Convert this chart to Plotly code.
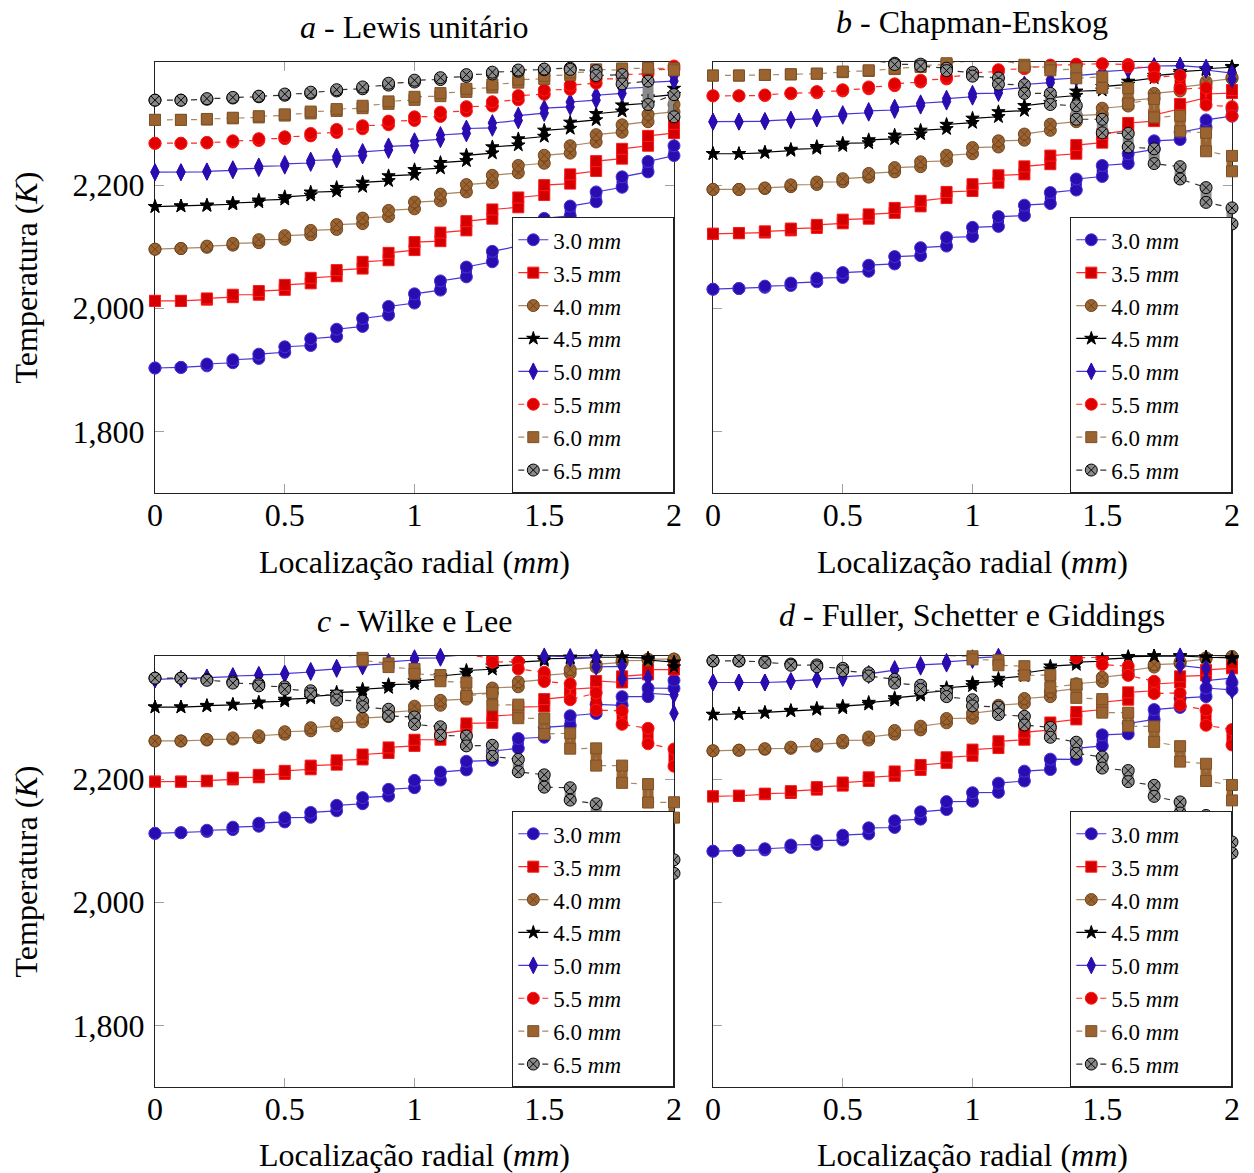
import plotly.graph_objects as go

# ---------------- data ----------------
RADIAL_MM = [0.0, 0.1, 0.2, 0.3, 0.4, 0.5, 0.6, 0.7, 0.8, 0.9, 1.0,
             1.1, 1.2, 1.3, 1.4, 1.5, 1.6, 1.7, 1.8, 1.9, 2.0]
SERIES = ["3.0", "3.5", "4.0", "4.5", "5.0", "5.5", "6.0", "6.5"]
PANEL_LETTERS = ["a", "b", "c", "d"]
PANEL_NAMES = ["Lewis unitário", "Chapman-Enskog", "Wilke e Lee",
               "Fuller, Schetter e Giddings"]
X_TICKS = [0, 0.5, 1, 1.5, 2]
X_TICK_TEXT = ["0", "0.5", "1", "1.5", "2"]
Y_TICKS = [1800, 2000, 2200]
Y_TICK_TEXT = ["1,800", "2,000", "2,200"]

# temperature (K) at each radial position (centre of the marker stack)
LEWIS_T = {
    "3.0": [1903, 1904, 1908, 1914, 1922, 1933, 1945, 1960, 1977, 1996, 2016, 2037, 2059, 2084, 2110, 2137, 2158, 2181, 2205, 2230, 2256],
    "3.5": [2012, 2012, 2015, 2020, 2025, 2034, 2045, 2057, 2070, 2084, 2101, 2116, 2134, 2153, 2172, 2192, 2210, 2231, 2251, 2272, 2292],
    "4.0": [2096, 2097, 2100, 2104, 2109, 2115, 2123, 2132, 2142, 2154, 2167, 2180, 2195, 2210, 2226, 2242, 2258, 2276, 2292, 2309, 2325],
    "4.5": [2165, 2166, 2167, 2170, 2174, 2179, 2186, 2193, 2201, 2211, 2221, 2232, 2244, 2257, 2270, 2284, 2297, 2311, 2325, 2338, 2352],
    "5.0": [2221, 2221, 2222, 2225, 2229, 2233, 2238, 2244, 2251, 2260, 2268, 2278, 2288, 2297, 2309, 2321, 2331, 2342, 2353, 2363, 2373],
    "5.5": [2268, 2268, 2269, 2271, 2274, 2277, 2282, 2288, 2294, 2301, 2308, 2315, 2324, 2332, 2342, 2351, 2359, 2369, 2376, 2384, 2391],
    "6.0": [2306, 2306, 2307, 2309, 2311, 2314, 2318, 2322, 2327, 2334, 2341, 2347, 2354, 2361, 2369, 2375, 2381, 2386, 2388, 2390, 2388],
    "6.5": [2338, 2338, 2340, 2342, 2344, 2347, 2350, 2354, 2358, 2364, 2369, 2373, 2378, 2382, 2386, 2388, 2389, 2382, 2372, 2350, 2329],
}
# vertical extent (K) of the marker stack at each position (sign = direction)
LEWIS_SPREAD = {
    "3.0": [0, 0, 3, 5, 7, 9, 11, 12, 13, 14, 15, 15, 16, 17, 18, 18, 16, 16, 17, 17, 16],
    "3.5": [0, 0, 2, 4, 6, 8, 9, 10, 11, 12, 13, 14, 15, 15, 16, 16, 15, 16, 16, 16, 15],
    "4.0": [0, 0, 2, 3, 5, 6, 7, 8, 9, 10, 11, 11, 12, 12, 12, 13, 12, 12, 12, 12, 12],
    "4.5": [0, 0, 1, 2, 3, 4, 5, 6, 7, 8, 8, 9, 9, 10, 10, 10, 10, 10, 10, 10, 10],
    "5.0": [0, 0, 1, 2, 3, 3, 4, 5, 6, 6, 7, 7, 8, 8, 8, 8, 8, 8, 8, 8, 8],
    "5.5": [0, 0, 1, 2, 3, 3, 4, 5, 5, 6, 6, 7, 7, 7, 7, 7, 7, 7, 7, 6, 5],
    "6.0": [0, 0, 1, 1, 2, 2, 3, 3, 4, 4, 5, 5, 5, 5, 5, 5, 4, 4, 3, 0, -3],
    "6.5": [0, 0, 1, 1, 1, 2, 2, 2, 3, 3, 3, 3, 3, 3, 2, 1, -2, -8, -15, -38, -36],
}

CHAPMAN_T = {
    "3.0": [2031, 2032, 2035, 2039, 2046, 2054, 2065, 2078, 2092, 2108, 2124, 2141, 2159, 2179, 2201, 2223, 2243, 2265, 2280, 2300, 2318],
    "3.5": [2121, 2122, 2124, 2128, 2133, 2141, 2149, 2159, 2170, 2184, 2196, 2210, 2224, 2241, 2258, 2276, 2295, 2309, 2328, 2345, 2352],
    "4.0": [2193, 2193, 2195, 2199, 2203, 2208, 2216, 2225, 2234, 2244, 2256, 2267, 2278, 2294, 2308, 2320, 2333, 2345, 2356, 2366, 2374],
    "4.5": [2251, 2251, 2253, 2257, 2261, 2266, 2271, 2278, 2286, 2295, 2305, 2315, 2325, 2338, 2349, 2357, 2366, 2376, 2383, 2388, 2392],
    "5.0": [2303, 2303, 2304, 2306, 2309, 2314, 2319, 2324, 2331, 2338, 2346, 2352, 2361, 2369, 2376, 2383, 2388, 2393, 2394, 2389, 2377],
    "5.5": [2345, 2345, 2346, 2349, 2351, 2354, 2358, 2363, 2369, 2374, 2381, 2386, 2390, 2394, 2396, 2397, 2394, 2383, 2367, 2344, 2320],
    "6.0": [2378, 2378, 2379, 2380, 2381, 2384, 2386, 2389, 2393, 2397, 2402, 2403, 2394, 2389, 2381, 2367, 2345, 2325, 2300, 2270, 2235],
    "6.5": [2412, 2412, 2413, 2413, 2414, 2410, 2404, 2397, 2395, 2388, 2380, 2369, 2356, 2340, 2318, 2296, 2273, 2247, 2220, 2184, 2150],
}
CHAPMAN_SPREAD = {
    "3.0": [0, 0, 2, 4, 6, 8, 10, 12, 13, 14, 15, 16, 17, 18, 18, 18, 16, 14, 12, 12, 12],
    "3.5": [0, 0, 2, 3, 5, 6, 7, 8, 9, 10, 11, 12, 13, 14, 14, 14, 12, 10, 8, 6, 5],
    "4.0": [0, 0, 1, 3, 4, 5, 6, 7, 8, 9, 10, 10, 10, 10, 10, 10, 9, 8, 6, 4, 2],
    "4.5": [0, 0, 1, 2, 3, 4, 5, 6, 6, 7, 7, 8, 8, 8, 7, 6, 5, 4, 3, 2, 1],
    "5.0": [0, 0, 1, 1, 2, 3, 3, 4, 4, 5, 5, 5, 5, 5, 4, 3, 2, 1, 0, -4, -10],
    "5.5": [0, 0, 1, 1, 2, 2, 3, 3, 3, 3, 3, 3, 2, 2, 1, 0, -4, -15, -22, -28, -15],
    "6.0": [0, 0, 0, 0, 0, 1, 1, 1, 2, 2, 0, 0, -3, -5, -15, -18, -25, -30, -25, -30, -25],
    "6.5": [0, 0, 0, 0, 0, 0, -2, -2, -3, -4, -6, -10, -14, -18, -22, -22, -22, -24, -20, -24, -26],
}

WILKE_T = {
    "3.0": [2112, 2113, 2116, 2120, 2126, 2134, 2142, 2153, 2165, 2178, 2192, 2205, 2222, 2238, 2258, 2276, 2295, 2314, 2327, 2341, 2354],
    "3.5": [2196, 2196, 2197, 2201, 2205, 2211, 2219, 2227, 2236, 2247, 2259, 2269, 2285, 2297, 2311, 2324, 2340, 2354, 2362, 2374, 2381],
    "4.0": [2262, 2262, 2264, 2266, 2269, 2275, 2281, 2289, 2296, 2305, 2315, 2324, 2334, 2344, 2354, 2365, 2375, 2384, 2391, 2394, 2395],
    "4.5": [2317, 2317, 2319, 2321, 2324, 2328, 2333, 2339, 2344, 2351, 2357, 2365, 2374, 2381, 2388, 2394, 2397, 2398, 2398, 2395, 2386],
    "5.0": [2362, 2363, 2365, 2367, 2369, 2371, 2375, 2380, 2384, 2389, 2395, 2398, 2402, 2403, 2402, 2400, 2397, 2390, 2373, 2352, 2322],
    "5.5": [2404, 2404, 2404, 2405, 2406, 2407, 2408, 2410, 2411, 2412, 2412, 2410, 2404, 2393, 2385, 2366, 2342, 2326, 2300, 2270, 2235],
    "6.0": [2416, 2416, 2416, 2415, 2414, 2413, 2410, 2405, 2395, 2385, 2375, 2364, 2346, 2330, 2310, 2286, 2262, 2236, 2208, 2177, 2150],
    "6.5": [2364, 2364, 2361, 2357, 2353, 2348, 2341, 2332, 2322, 2308, 2295, 2278, 2262, 2246, 2222, 2197, 2176, 2149, 2125, 2100, 2058],
}
WILKE_SPREAD = {
    "3.0": [0, 0, 2, 4, 5, 7, 8, 9, 10, 11, 12, 13, 14, 15, 16, 16, 16, 15, 14, 14, 13],
    "3.5": [0, 0, 1, 3, 4, 5, 6, 7, 8, 9, 10, 10, 11, 11, 12, 12, 12, 11, 10, 8, 6],
    "4.0": [0, 0, 1, 2, 3, 4, 5, 5, 6, 7, 7, 8, 8, 8, 8, 7, 6, 5, 3, 2, 0],
    "4.5": [0, 0, 1, 1, 2, 3, 3, 4, 4, 5, 5, 5, 5, 5, 4, 3, 2, 0, 0, -3, -8],
    "5.0": [0, 0, 0, 1, 1, 1, 2, 2, 2, 3, 3, 2, 0, 0, 0, -1, -3, -15, -20, -25, -30],
    "5.5": [0, 0, 0, 0, 0, 0, 0, 0, 0, 0, 0, 0, -3, -6, -12, -15, -26, -28, -22, -25, -28],
    "6.0": [0, 0, 0, 0, 0, 0, 0, -2, -4, -6, -8, -10, -22, -20, -22, -25, -25, -28, -28, -30, -25],
    "6.5": [0, 0, -1, -2, -3, -4, -5, -7, -9, -11, -12, -14, -16, -18, -20, -20, -20, -22, -22, -22, -22],
}

FULLER_T = {
    "3.0": [2083, 2084, 2086, 2091, 2097, 2105, 2116, 2127, 2141, 2157, 2171, 2186, 2205, 2224, 2241, 2263, 2282, 2305, 2324, 2341, 2351],
    "3.5": [2172, 2173, 2176, 2179, 2185, 2192, 2200, 2209, 2219, 2231, 2243, 2256, 2270, 2286, 2303, 2319, 2335, 2349, 2362, 2373, 2384],
    "4.0": [2246, 2247, 2249, 2251, 2255, 2261, 2266, 2276, 2283, 2295, 2303, 2316, 2327, 2338, 2351, 2362, 2373, 2384, 2389, 2396, 2399],
    "4.5": [2305, 2306, 2308, 2311, 2314, 2317, 2323, 2330, 2338, 2346, 2354, 2361, 2370, 2381, 2388, 2393, 2398, 2400, 2400, 2398, 2396],
    "5.0": [2357, 2357, 2357, 2359, 2362, 2365, 2370, 2378, 2384, 2389, 2395, 2400, 2403, 2406, 2407, 2408, 2408, 2406, 2392, 2370, 2354],
    "5.5": [2403, 2403, 2402, 2404, 2406, 2408, 2410, 2411, 2412, 2413, 2413, 2412, 2410, 2405, 2400, 2392, 2376, 2349, 2330, 2300, 2268],
    "6.0": [2418, 2418, 2418, 2417, 2416, 2414, 2412, 2409, 2406, 2402, 2397, 2389, 2376, 2359, 2343, 2319, 2297, 2273, 2241, 2211, 2178],
    "6.5": [2392, 2392, 2390, 2386, 2384, 2378, 2370, 2359, 2349, 2338, 2324, 2311, 2295, 2276, 2251, 2227, 2205, 2181, 2154, 2132, 2089],
}
FULLER_SPREAD = {
    "3.0": [0, 0, 2, 4, 6, 8, 10, 11, 12, 13, 14, 15, 16, 17, 18, 18, 17, 16, 15, 14, 12],
    "3.5": [0, 0, 1, 3, 4, 5, 6, 7, 8, 9, 10, 11, 12, 12, 12, 12, 12, 11, 10, 9, 8],
    "4.0": [0, 0, 1, 2, 3, 4, 5, 6, 6, 7, 8, 8, 8, 8, 8, 7, 6, 4, 3, 2, 0],
    "4.5": [0, 0, 1, 1, 2, 3, 3, 4, 4, 5, 5, 5, 5, 5, 4, 3, 2, 0, 0, 0, -2],
    "5.0": [0, 0, 0, 1, 1, 2, 2, 2, 3, 3, 3, 2, 1, 0, 0, 0, 0, -3, -15, -20, -20],
    "5.5": [0, 0, 0, 0, 0, 0, 0, 0, 0, 0, 0, 0, 0, -3, -6, -12, -15, -20, -20, -25, -25],
    "6.0": [0, 0, 0, 0, 0, 0, 0, 0, -2, -3, -5, -8, -15, -20, -22, -22, -22, -25, -25, -28, -25],
    "6.5": [0, 0, -1, -2, -3, -4, -5, -6, -7, -8, -10, -12, -14, -16, -18, -18, -18, -18, -18, -18, -18],
}

PANELS = [(LEWIS_T, LEWIS_SPREAD), (CHAPMAN_T, CHAPMAN_SPREAD),
          (WILKE_T, WILKE_SPREAD), (FULLER_T, FULLER_SPREAD)]

# ---------------- styles ----------------
FONT = "Liberation Serif"
BLUE_M, BLUE_L = "#2a0cb0", "#4536d8"
RED_M, RED_E, RED_L = "#d40000", "#ff1a1a", "#ff2a2a"
BROWN_M, BROWN_E, BROWN_L = "#9a6330", "#6f4520", "#a88763"
STYLE = {
    "3.0": dict(symbol="circle", size=12, fill=BLUE_M, edge=BLUE_L, line=BLUE_L, dash="solid", bar=11),
    "3.5": dict(symbol="square", size=11, fill=RED_M, edge=RED_E, line=RED_L, dash="solid", bar=11),
    "4.0": dict(symbol="circle-x", size=12, fill=BROWN_M, edge=BROWN_E, line=BROWN_L, dash="solid", bar=11),
    "4.5": dict(symbol="star", size=10, fill="#000000", edge="#000000", line="#000000", dash="solid", bar=3),
    "5.0": dict(symbol="diamond-tall", size=12, fill=BLUE_M, edge=BLUE_M, line=BLUE_L, dash="solid", bar=4),
    "5.5": dict(symbol="circle", size=12, fill="#e00000", edge=RED_E, line=RED_L, dash="6px,6px", bar=11),
    "6.0": dict(symbol="square", size=11, fill=BROWN_M, edge="#7d5228", line=BROWN_L, dash="6px,6px", bar=11),
    "6.5": dict(symbol="circle-x", size=12, fill="#8a8a8a", edge="#000000", line="#333333", dash="6px,6px", bar=11),
}
CLIPPED = {(2, "5.5"), (3, "5.5")}   # series drawn clipped to the plot box
LEGEND_PAD = "&nbsp;" * 8

X_DOMAINS = [[155 / 1254, 674 / 1254], [713 / 1254, 1232 / 1254]] * 2
Y_DOMAINS = [[1 - 493 / 1173, 1 - 62 / 1173]] * 2 + [[1 - 1087 / 1173, 1 - 656 / 1173]] * 2

fig = go.Figure()

for p, (temps, spreads) in enumerate(PANELS):
    xa = "x" if p == 0 else f"x{p + 1}"
    ya = "y" if p == 0 else f"y{p + 1}"
    leg = "legend" if p == 0 else f"legend{p + 1}"
    for name in SERIES:
        st = STYLE[name]
        xs, ys, up, dn = [], [], [], []
        for x, c, s in zip(RADIAL_MM, temps[name], spreads[name]):
            y0, y1 = c - s / 2, c + s / 2
            xs += [x, x]
            ys += [y0, y1]
            up += [max(y1 - y0, 0), 0]
            dn += [max(y0 - y1, 0), 0]
        fig.add_trace(go.Scatter(
            x=xs, y=ys, xaxis=xa, yaxis=ya, legend=leg,
            name=f"{name} <i>mm</i>{LEGEND_PAD}", mode="lines+markers",
            cliponaxis=((p, name) in CLIPPED),
            line=dict(color=st["line"], width=1.2, dash=st["dash"]),
            marker=dict(symbol=st["symbol"], size=st["size"], color=st["fill"],
                        line=dict(color=st["edge"], width=1)),
            error_y=dict(type="data", symmetric=False, array=up, arrayminus=dn,
                         color=st["fill"], thickness=st["bar"], width=0),
        ))

axis_font = dict(family=FONT, size=32, color="black")
layout = dict(
    width=1254, height=1173,
    margin=dict(l=0, r=0, t=0, b=0, pad=0, autoexpand=False),
    paper_bgcolor="white", plot_bgcolor="white", showlegend=True,
    font=dict(family=FONT, color="black"),
)
for p in range(4):
    sx = "" if p == 0 else str(p + 1)
    layout[f"xaxis{sx}"] = dict(
        domain=X_DOMAINS[p], anchor=f"y{sx}", range=[0, 2],
        tickvals=X_TICKS, ticktext=X_TICK_TEXT, ticks="inside", ticklen=9,
        tickcolor="#a0a0a0", tickwidth=1, showline=True, linecolor="#222222",
        linewidth=1.3, mirror="ticks", showgrid=False, zeroline=False,
        tickfont=axis_font, ticklabelstandoff=-7, layer="below traces",
        automargin=False)
    layout[f"yaxis{sx}"] = dict(
        domain=Y_DOMAINS[p], anchor=f"x{sx}", range=[1700, 2400],
        tickvals=Y_TICKS, ticktext=Y_TICK_TEXT, ticks="inside", ticklen=9,
        tickcolor="#a0a0a0", tickwidth=1, showline=True, linecolor="#222222",
        linewidth=1.3, mirror="ticks", showgrid=False, zeroline=False,
        showticklabels=(p % 2 == 0), tickfont=axis_font,
        ticklabelstandoff=3, layer="below traces", automargin=False)
    leg = "legend" if p == 0 else f"legend{p + 1}"
    layout[leg] = dict(
        x=X_DOMAINS[p][1], xanchor="right", y=Y_DOMAINS[p][0], yanchor="bottom",
        bgcolor="white", bordercolor="#222222", borderwidth=1.3,
        font=dict(family=FONT, size=23, color="black"), tracegroupgap=0)

annotations = []
TITLE_Y = [27, 22, 621, 615]
XTITLE_Y = [562, 562, 1155, 1155]
for p in range(4):
    xc = (X_DOMAINS[p][0] + X_DOMAINS[p][1]) / 2
    annotations.append(dict(
        text=f"<i>{PANEL_LETTERS[p]}</i> - {PANEL_NAMES[p]}", x=xc,
        y=1 - TITLE_Y[p] / 1173, xref="paper", yref="paper", showarrow=False,
        xanchor="center", yanchor="middle", font=axis_font))
    annotations.append(dict(
        text="Localização radial (<i>mm</i>)", x=xc,
        y=1 - XTITLE_Y[p] / 1173, xref="paper", yref="paper", showarrow=False,
        xanchor="center", yanchor="middle", font=axis_font))
for p in (0, 2):
    annotations.append(dict(
        text="Temperatura (<i>K</i>)", x=25 / 1254,
        y=(Y_DOMAINS[p][0] + Y_DOMAINS[p][1]) / 2, xref="paper", yref="paper",
        showarrow=False, textangle=-90, xanchor="center", yanchor="middle",
        font=axis_font))
layout["annotations"] = annotations

fig.update_layout(**layout)
fig.write_html(
    "out.html",
    config={"displayModeBar": False},
    post_script="document.body.style.margin='0';document.body.style.overflow='hidden';")
